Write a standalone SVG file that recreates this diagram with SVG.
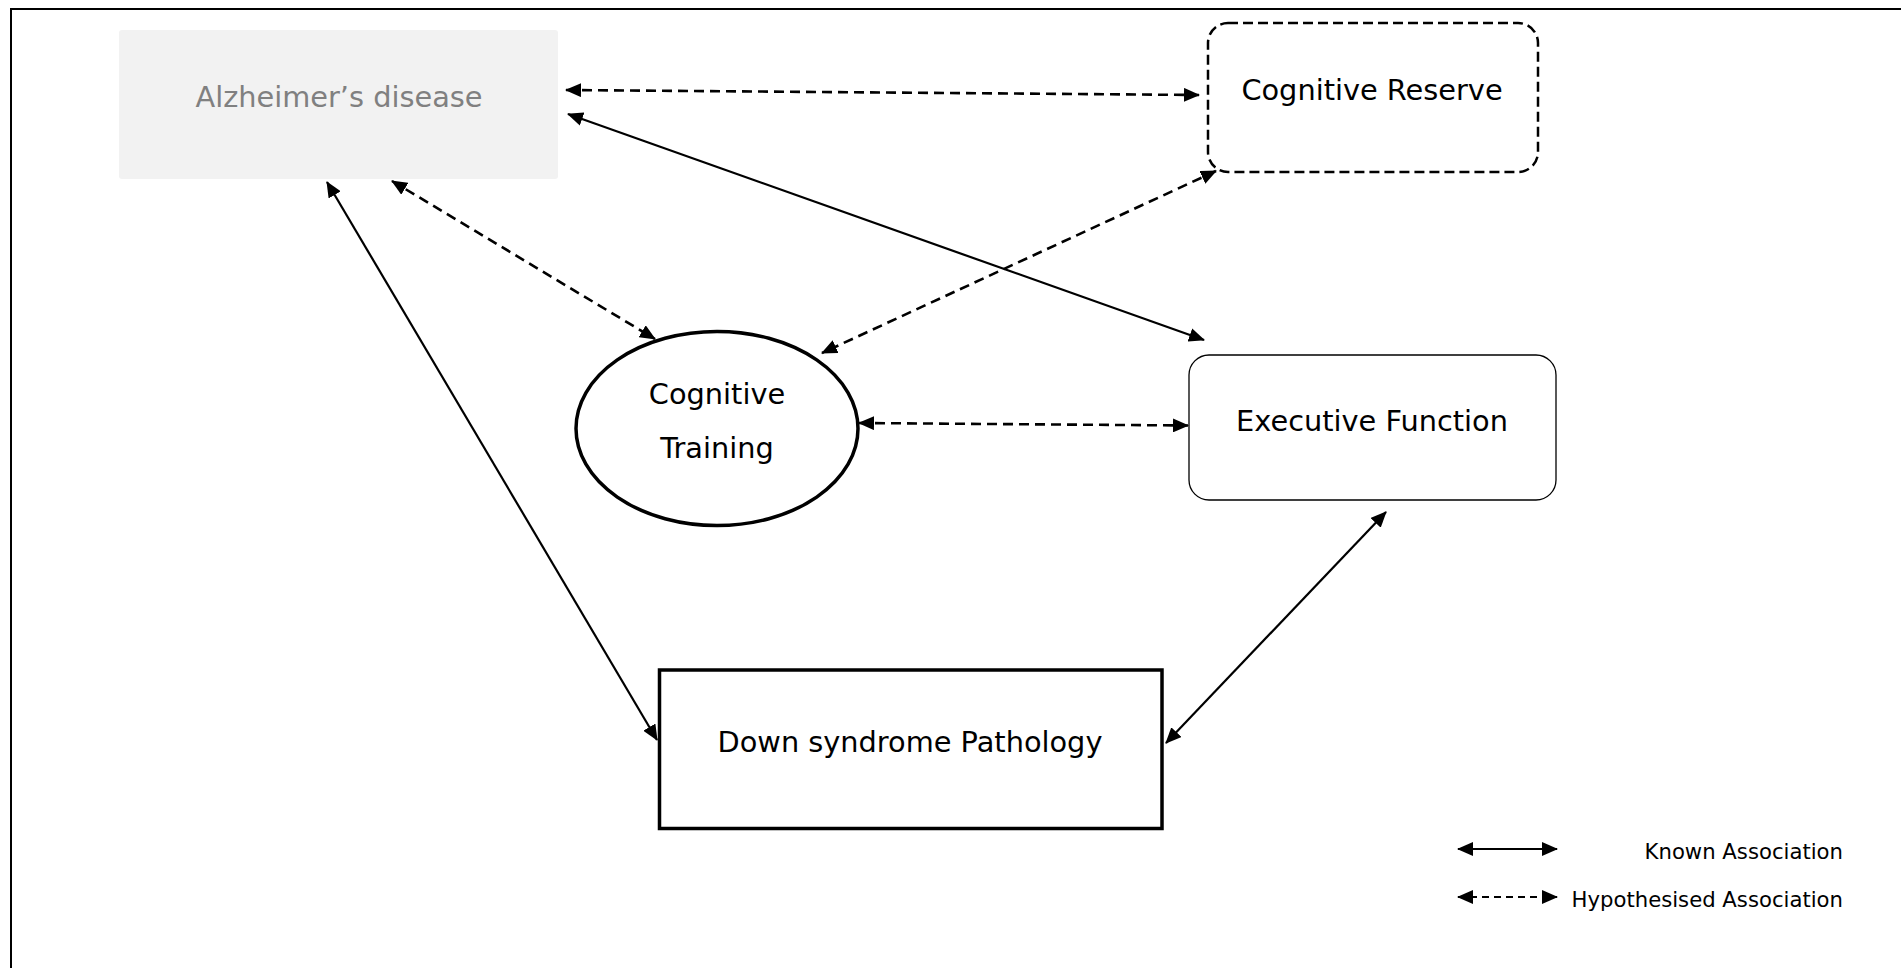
<svg xmlns="http://www.w3.org/2000/svg" width="1901" height="968" viewBox="0 0 1901 968">
  <style>
    .lbl { font-family: "DejaVu Sans", Verdana, sans-serif; font-size: 28.8px; fill: #000; text-anchor: middle; }
    .muted { fill: #808080; }
    .legend { font-family: "DejaVu Sans", Verdana, sans-serif; font-size: 21.2px; fill: #000; text-anchor: end; }
    .known { fill: none; stroke: #000; stroke-width: 2.2; }
    .hypo { fill: none; stroke: #000; stroke-width: 2.6; stroke-dasharray: 10 6; }
    .legend-known { fill: none; stroke: #000; stroke-width: 2.2; }
    .legend-hypo { fill: none; stroke: #000; stroke-width: 1.8; stroke-dasharray: 7 5; }
  </style>
  <defs>
    <marker id="head" viewBox="0 0 16 14" markerUnits="userSpaceOnUse" markerWidth="16" markerHeight="14" refX="15" refY="7" orient="auto-start-reverse">
      <path d="M0,0 L16,7 L0,14 Z" fill="#000"/>
    </marker>
  </defs>

  <rect width="1901" height="968" fill="#fff"/>
  <!-- outer frame -->
  <rect x="11" y="9" width="1920" height="990" fill="none" stroke="#000" stroke-width="2"/>

  <g id="alzheimers">
    <rect x="119" y="30" width="439" height="149" rx="3" fill="#f2f2f2"/>
    <text class="lbl muted" x="339" y="107">Alzheimer’s disease</text>
  </g>

  <g id="cognitive-reserve">
    <rect x="1208" y="23" width="330" height="149" rx="20" fill="#fff" stroke="#000" stroke-width="2.5" stroke-dasharray="10 5"/>
    <text class="lbl" x="1372" y="100">Cognitive Reserve</text>
  </g>

  <g id="cognitive-training">
    <ellipse cx="717" cy="428.5" rx="141" ry="97" fill="#fff" stroke="#000" stroke-width="3.5"/>
    <text class="lbl" x="717" y="404">Cognitive</text>
    <text class="lbl" x="717" y="458">Training</text>
  </g>

  <g id="executive-function">
    <rect x="1189" y="355" width="367" height="145" rx="20" fill="#fff" stroke="#000" stroke-width="1.3"/>
    <text class="lbl" x="1372" y="431">Executive Function</text>
  </g>

  <g id="down-syndrome">
    <rect x="659.5" y="670" width="502.5" height="158.5" fill="#fff" stroke="#000" stroke-width="3.5"/>
    <text class="lbl" x="910" y="752">Down syndrome Pathology</text>
  </g>

  <g id="connectors">
    <line class="hypo" x1="566" y1="90" x2="1199" y2="95" marker-start="url(#head)" marker-end="url(#head)"/>
    <line class="known" x1="568" y1="114" x2="1204" y2="340" marker-start="url(#head)" marker-end="url(#head)"/>
    <line class="known" x1="327" y1="182" x2="657" y2="740" marker-start="url(#head)" marker-end="url(#head)"/>
    <line class="hypo" x1="392" y1="181" x2="655" y2="339" marker-start="url(#head)" marker-end="url(#head)"/>
    <line class="hypo" x1="1216" y1="171" x2="822" y2="353" marker-start="url(#head)" marker-end="url(#head)"/>
    <line class="hypo" x1="859" y1="423" x2="1188" y2="425.5" marker-start="url(#head)" marker-end="url(#head)"/>
    <line class="known" x1="1386" y1="512" x2="1166" y2="743" marker-start="url(#head)" marker-end="url(#head)"/>
  </g>

  <g id="legend">
    <line class="legend-known" x1="1458" y1="849" x2="1557" y2="849" marker-start="url(#head)" marker-end="url(#head)"/>
    <text class="legend" x="1843" y="859">Known Association</text>
    <line class="legend-hypo" x1="1458" y1="897" x2="1557" y2="897" marker-start="url(#head)" marker-end="url(#head)"/>
    <text class="legend" x="1843" y="907">Hypothesised Association</text>
  </g>
</svg>
